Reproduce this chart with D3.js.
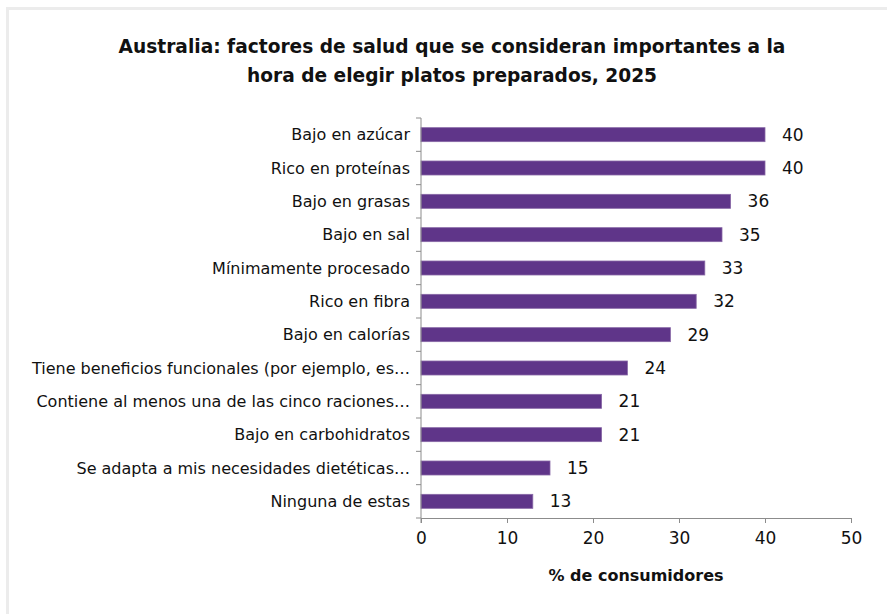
<!DOCTYPE html>
<html>
<head>
<meta charset="utf-8">
<script src="https://cdn.jsdelivr.net/npm/d3@7"></script>
<style>
  body { margin: 0; background: #fff; }
  text { font-family: "DejaVu Sans", sans-serif; fill: #111; }
</style>
</head>
<body>
<div id="chart"></div>
<script>
var categories = [
  "Bajo en azúcar",
  "Rico en proteínas",
  "Bajo en grasas",
  "Bajo en sal",
  "Mínimamente procesado",
  "Rico en fibra",
  "Bajo en calorías",
  "Tiene beneficios funcionales (por ejemplo, es…",
  "Contiene al menos una de las cinco raciones…",
  "Bajo en carbohidratos",
  "Se adapta a mis necesidades dietéticas…",
  "Ninguna de estas"
];
var values = [40, 40, 36, 35, 33, 32, 29, 24, 21, 21, 15, 13];
var xTicks = [0, 10, 20, 30, 40, 50];
var titleLines = [
  "Australia: factores de salud que se consideran importantes a la",
  "hora de elegir platos preparados, 2025"
];
var axisTitle = "% de consumidores";

var width = 887, height = 614;
var margin = { top: 118, right: 36, bottom: 96, left: 421 };

var svg = d3.select("#chart").append("svg")
  .attr("width", width)
  .attr("height", height);

// light frame
svg.append("rect")
  .attr("x", 7.5).attr("y", 8.5)
  .attr("width", width).attr("height", height)
  .attr("fill", "none")
  .attr("stroke", "#ececec")
  .attr("stroke-width", 3);

svg.append("g").selectAll("text")
  .data(titleLines)
  .enter().append("text")
  .attr("x", 452)
  .attr("y", function (d, i) { return 53 + i * 29; })
  .attr("text-anchor", "middle")
  .style("font-weight", "bold")
  .style("font-size", "18.6px")
  .text(function (d) { return d; });

var x = d3.scaleLinear().domain([0, 50])
  .range([margin.left, width - margin.right]);
var y = d3.scaleBand().domain(categories)
  .range([margin.top, height - margin.bottom])
  .paddingInner(0.58).paddingOuter(0.29);

// bars
svg.append("g").selectAll("rect")
  .data(values)
  .enter().append("rect")
  .attr("x", x(0))
  .attr("y", function (d, i) { return y(categories[i]); })
  .attr("width", function (d) { return x(d) - x(0); })
  .attr("height", y.bandwidth())
  .attr("fill", "#5f3589")
  .attr("stroke", "#8767a6")
  .attr("stroke-width", 0.8);

// value labels
svg.append("g").selectAll("text")
  .data(values)
  .enter().append("text")
  .attr("x", function (d) { return x(d) + 17; })
  .attr("y", function (d, i) { return y(categories[i]) + y.bandwidth() / 2; })
  .attr("dy", "0.35em")
  .style("font-size", "17px")
  .text(function (d) { return d; });

// y axis with ticks at category boundaries
var yAxisG = svg.append("g");
var step = y.step();
var bounds = d3.range(categories.length + 1).map(function (i) { return margin.top + i * step; });
yAxisG.append("line")
  .attr("x1", margin.left).attr("x2", margin.left)
  .attr("y1", margin.top).attr("y2", height - margin.bottom + 5)
  .attr("stroke", "#8c8c8c");
yAxisG.selectAll(".yt")
  .data(bounds)
  .enter().append("line")
  .attr("x1", margin.left - 5).attr("x2", margin.left)
  .attr("y1", function (d) { return d; }).attr("y2", function (d) { return d; })
  .attr("stroke", "#8c8c8c");
yAxisG.selectAll("text")
  .data(categories)
  .enter().append("text")
  .attr("x", margin.left - 11)
  .attr("y", function (d) { return y(d) + y.bandwidth() / 2; })
  .attr("dy", "0.35em")
  .attr("text-anchor", "end")
  .style("font-size", "16px")
  .text(function (d) { return d; });

// x axis
var xAxis = d3.axisBottom(x).tickValues(xTicks).tickSize(5).tickSizeOuter(0);
var xg = svg.append("g")
  .attr("transform", "translate(0," + (height - margin.bottom) + ")")
  .call(xAxis);
xg.select(".domain").attr("stroke", "#8c8c8c");
xg.selectAll(".tick line").attr("stroke", "#8c8c8c");
xg.selectAll(".tick text")
  .attr("y", 14)
  .style("font-size", "17px")
  .style("font-family", null)
  .attr("fill", "#111");

svg.append("text")
  .attr("x", (x(0) + x(50)) / 2)
  .attr("y", 581)
  .attr("text-anchor", "middle")
  .style("font-weight", "bold")
  .style("font-size", "16px")
  .text(axisTitle);
</script>
</body>
</html>
